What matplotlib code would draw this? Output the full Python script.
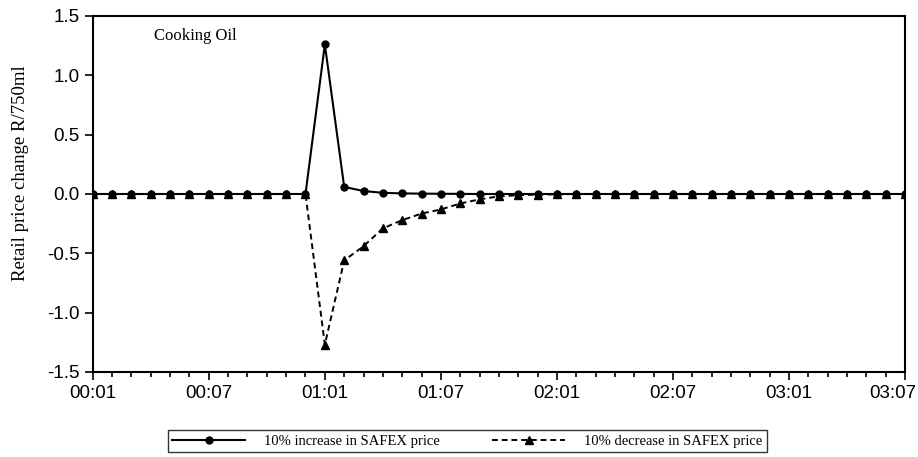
import numpy as np
import matplotlib.pyplot as plt
from matplotlib.ticker import MultipleLocator
from matplotlib.transforms import ScaledTranslation

# monthly observations 00:01 .. 03:07
tick_labels = ['00:01', '00:07', '01:01', '01:07', '02:01', '02:07', '03:01', '03:07']

increase = [0.0, 0.0, 0.0, 0.0, 0.0, 0.0, 0.0, 0.0, 0.0, 0.0, 0.0, 0.0,
            1.26, 0.06, 0.025, 0.01, 0.005, 0.003, 0.002, 0.001, 0.0, 0.0,
            0.0, 0.0, 0.0, 0.0, 0.0, 0.0, 0.0, 0.0, 0.0, 0.0, 0.0, 0.0,
            0.0, 0.0, 0.0, 0.0, 0.0, 0.0, 0.0, 0.0, 0.0]
decrease = [0.0, 0.0, 0.0, 0.0, 0.0, 0.0, 0.0, 0.0, 0.0, 0.0, 0.0, 0.0,
            -1.27, -0.56, -0.44, -0.29, -0.22, -0.165, -0.13, -0.08, -0.045,
            -0.02, -0.01, -0.005, -0.003, 0.0, 0.0, 0.0, 0.0, 0.0, 0.0, 0.0,
            0.0, 0.0, 0.0, 0.0, 0.0, 0.0, 0.0, 0.0, 0.0, 0.0, 0.0]

x = np.arange(len(increase))
serif = ['Liberation Serif', 'DejaVu Serif']
sans = ['Liberation Sans', 'DejaVu Sans']

fig = plt.figure(figsize=(9.18, 4.57), dpi=100)
ax = fig.add_axes([0.101, 0.186, 0.885, 0.779])

ax.plot(x, increase, color='black', lw=1.5, marker='o', ms=5,
        label='10% increase in SAFEX price')
ax.plot(x, decrease, color='black', lw=1.4, ls=(0, (3, 2)), marker='^', ms=5.5,
        label='10% decrease in SAFEX price')

ax.set_xlim(0, len(x) - 1)
ax.set_ylim(-1.5, 1.5)
ax.set_xticks(np.arange(0, len(x), 6))
ax.set_xticklabels(tick_labels, family=sans, fontsize=13.5)
ax.xaxis.set_minor_locator(MultipleLocator(1))
ax.set_yticks([-1.5, -1.0, -0.5, 0.0, 0.5, 1.0, 1.5])
ax.set_yticklabels(['%.1f' % v for v in ax.get_yticks()], family=sans, fontsize=13.5)
ax.tick_params(axis='both', which='major', direction='out', length=6, width=1.2, color='black')
ax.tick_params(axis='x', which='minor', direction='out', length=3.5, width=1.2)
for s in ax.spines.values():
    s.set_linewidth(1.5)

# last label sits flush with the figure edge
last = ax.get_xticklabels()[-1]
last.set_ha('right')
last.set_transform(last.get_transform() + ScaledTranslation(0.11, 0, fig.dpi_scale_trans))

ax.set_ylabel('Retail price change R/750ml', family=serif, fontsize=13.5)
ax.yaxis.set_label_coords(-0.078, 0.56)
ax.text(0.076, 0.945, 'Cooking Oil', transform=ax.transAxes, family=serif,
        fontsize=12, va='center', ha='left')

fig.legend(loc='center', bbox_to_anchor=(0.509, 0.035), ncol=2, frameon=True,
           fancybox=False, edgecolor='black', prop={'family': serif, 'size': 10.5},
           handlelength=5, columnspacing=3.6, borderpad=0.3, handletextpad=1.3,
           borderaxespad=0)

fig.savefig('out.png', dpi=100)
